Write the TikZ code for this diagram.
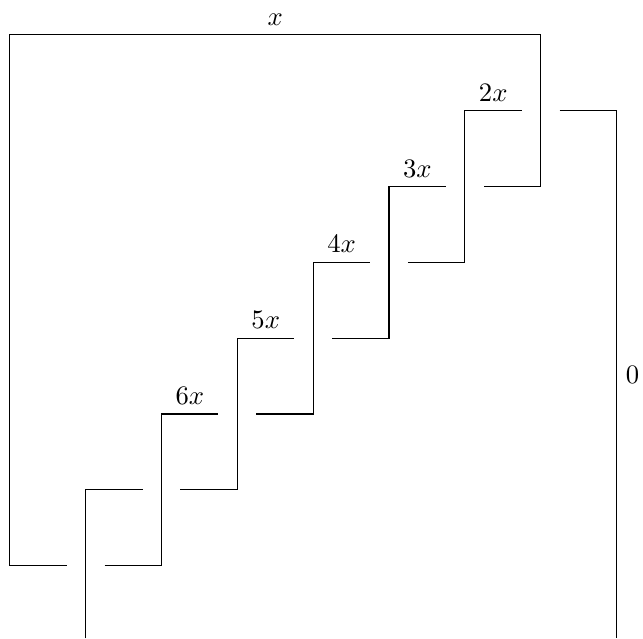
\documentclass[tikz,border=0pt]{standalone}
\begin{document}
\begin{tikzpicture}[scale=1.0]
\useasboundingbox (-0.13,-0.96) rectangle (8.35,7.46);

% Outer strand closing over the top
\draw (0.75,0) -- (0,0) -- (0,7) -- node[above] (labx) {$x$} (7,7) -- (7,5) -- (6.25,5);

% Right strand
\draw (7.25,6) -- (8,6) -- node[right] (labzero) {$0$} (8,-0.96);

% Left strand entering from below
\draw (1,-0.96) -- (1,1) -- (1.75,1);

% Staircase strands (with crossing gaps)
\foreach \c/\label in {2/6x, 3/5x, 4/4x, 5/3x, 6/2x} {
    \draw (\c-0.75,\c-2) -- (\c,\c-2) -- (\c,\c) -- node[above] (lab\c) {$\label$} (\c+0.75,\c);
}

\end{tikzpicture}
\end{document}
